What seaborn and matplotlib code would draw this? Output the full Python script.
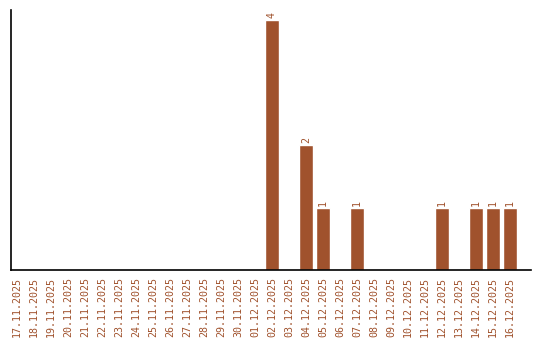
import matplotlib
matplotlib.use("Agg")
import matplotlib.pyplot as plt
import seaborn as sns
import pandas as pd

dates = ["17.11.2025", "18.11.2025", "19.11.2025", "20.11.2025", "21.11.2025",
         "22.11.2025", "23.11.2025", "24.11.2025", "25.11.2025", "26.11.2025",
         "27.11.2025", "28.11.2025", "29.11.2025", "30.11.2025", "01.12.2025",
         "02.12.2025", "03.12.2025", "04.12.2025", "05.12.2025", "06.12.2025",
         "07.12.2025", "08.12.2025", "09.12.2025", "10.12.2025", "11.12.2025",
         "12.12.2025", "13.12.2025", "14.12.2025", "15.12.2025", "16.12.2025"]
counts = [0, 0, 0, 0, 0, 0, 0, 0, 0, 0,
          0, 0, 0, 0, 0, 4, 0, 2, 1, 0,
          1, 0, 0, 0, 0, 1, 0, 1, 1, 1]

df = pd.DataFrame({"date": dates, "count": counts})

sns.set_style("white")
plt.rcParams["font.family"] = ["DejaVu Sans Mono", "Liberation Mono"]

color = "#A0522D"
fig = plt.figure(figsize=(5.4, 3.4), dpi=100)
ax = fig.add_axes([11 / 540, 70 / 340, 520 / 540, 260 / 340])
sns.barplot(data=df, x="date", y="count", color=color, saturation=1,
            width=0.86, ax=ax)

for i, v in enumerate(counts):
    if v > 0:
        ax.text(i, v + 0.03, str(v), rotation=90, ha="center", va="bottom",
                color=color, fontsize=7.2)

ax.set_xlim(-0.35, 30.24)
ax.set_ylim(0, 4.16)
ax.set_xlabel("")
ax.set_ylabel("")
ax.set_yticks([])
ax.tick_params(axis="x", length=0, pad=5, labelsize=7.2, labelcolor=color,
               rotation=90)
for s in ["top", "right"]:
    ax.spines[s].set_visible(False)
for s in ["left", "bottom"]:
    ax.spines[s].set_color("black")
    ax.spines[s].set_linewidth(1.2)

fig.savefig("out.png", dpi=100)
